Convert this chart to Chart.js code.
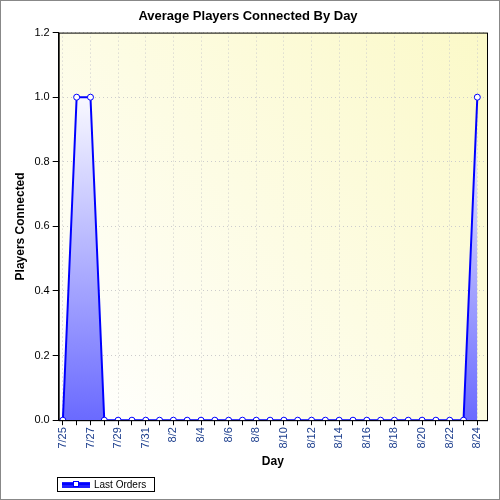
<!DOCTYPE html>
<html><head><script src="https://cdn.jsdelivr.net/npm/chart.js@4"></script>
<style>body{margin:0;background:#fff}#w{width:498px;height:498px;border:1px solid #888;position:relative}</style></head>
<body><div id="w"><canvas id="c" width="498" height="498"></canvas></div>
<script>
const categories=['7/25','7/26','7/27','7/28','7/29','7/30','7/31','8/1','8/2','8/3','8/4','8/5','8/6','8/7','8/8','8/9','8/10','8/11','8/12','8/13','8/14','8/15','8/16','8/17','8/18','8/19','8/20','8/21','8/22','8/23','8/24'];
const players=[0,1,1,0,0,0,0,0,0,0,0,0,0,0,0,0,0,0,0,0,0,0,0,0,0,0,0,0,0,0,1];
const yTicks=[0,0.2,0.4,0.6,0.8,1.0,1.2];
const seriesName='Last Orders';
const bg={id:'bg',beforeDraw(ch){const a=ch.chartArea,x=ch.ctx;const g=x.createLinearGradient(a.left,a.bottom,a.right,a.top);g.addColorStop(0,'#ffffff');g.addColorStop(1,'#fbf9c8');x.save();x.fillStyle=g;x.fillRect(a.left,a.top,a.width,a.height);x.restore();},
afterDraw(ch){const x=ch.ctx,a=ch.chartArea;x.save();x.strokeStyle='#000';x.lineWidth=1;x.strokeRect(a.left+0.5,a.top+0.5,a.width,a.height);
x.strokeRect(56.5,476.5,97,14);
x.fillStyle='#2020ff';x.fillRect(61,481,28,6);x.strokeStyle='#0000ff';x.lineWidth=2;x.beginPath();x.moveTo(61,483);x.lineTo(89,483);x.stroke();
x.fillStyle='#fff';x.lineWidth=1;x.fillRect(72,480,6,6);x.strokeRect(72.5,480.5,5,5);
x.fillStyle='#000';x.font='10px Arial';x.textBaseline='middle';x.fillText(seriesName,93,484);x.restore();}};
new Chart(document.getElementById('c'),{type:'line',
data:{datasets:[{label:seriesName,data:players.map((v,i)=>({x:i,y:v})),borderColor:'#0000ff',borderWidth:2,pointRadius:3,pointBackgroundColor:'#fff',pointBorderColor:'#0000ff',pointBorderWidth:1,fill:'origin',tension:0,
backgroundColor:(ctx)=>{const a=ctx.chart.chartArea;if(!a)return '#88f';const g=ctx.chart.ctx.createLinearGradient(0,a.bottom,0,a.top+50);g.addColorStop(0,'#6a6aff');g.addColorStop(1,'#ffffff');return g;}}]},
options:{responsive:false,animation:false,layout:{padding:{right:12,top:0,bottom:26,left:8}},
plugins:{title:{display:true,text:'Average Players Connected By Day',font:{family:'Arial',size:13,weight:'bold'},color:'#000',padding:{top:8,bottom:8}},
legend:{display:false},tooltip:{enabled:false}},
scales:{x:{type:'linear',min:-0.3,max:30.7,afterBuildTicks:(s)=>{s.ticks=categories.map((c,i)=>({value:i}));},
ticks:{autoSkip:false,maxRotation:90,minRotation:90,padding:2,font:{family:'Arial',size:11},color:'#1a3c8c',callback:(v)=>Number.isInteger(v)&&v%2===0?categories[v]:''},
grid:{color:(c)=>c.tick&&c.tick.value%2===0?'#ccc':'rgba(0,0,0,0)',tickColor:'#000',tickLength:5},border:{dash:[1,3],color:'#000'},
title:{display:true,text:'Day',font:{family:'Arial',size:12,weight:'bold'},color:'#000',padding:{top:4}}},
y:{min:0,max:1.2,afterBuildTicks:(s)=>{s.ticks=yTicks.map(v=>({value:v}));},ticks:{font:{family:'Arial',size:11},color:'#000',callback:(v)=>v.toFixed(1)},
grid:{color:'#ccc',tickColor:'#000',tickLength:6},border:{dash:[1,3],color:'#000'},
title:{display:true,text:'Players Connected',font:{family:'Arial',size:12,weight:'bold'},color:'#000'}}}},
plugins:[bg]});
</script></body></html>
